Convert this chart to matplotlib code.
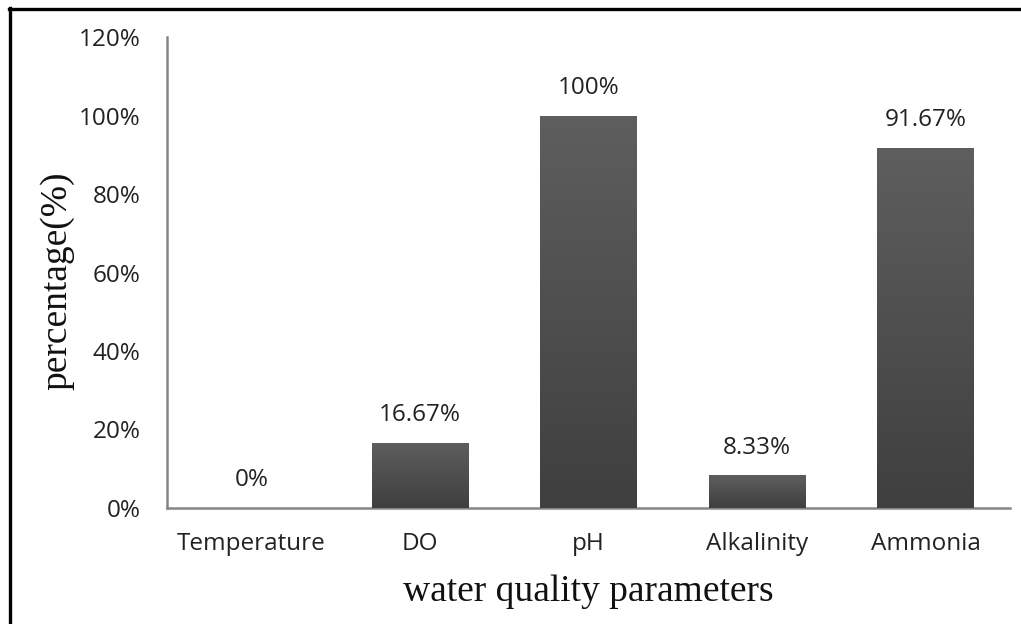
import numpy as np
import matplotlib
matplotlib.use('Agg')
import matplotlib.pyplot as plt
from matplotlib.ticker import FuncFormatter

categories = ['Temperature', 'DO', 'pH', 'Alkalinity', 'Ammonia']
values = [0, 16.67, 100, 8.33, 91.67]
labels = ['0%', '16.67%', '100%', '8.33%', '91.67%']
yticks = [0, 20, 40, 60, 80, 100, 120]

fig = plt.figure(figsize=(10.21, 6.24), dpi=100)
ax = fig.add_axes([0.1636, 0.1859, 0.8254, 0.7548])

x = np.arange(len(categories))
bars = ax.bar(x, values, width=0.57, color='#4a4a4a', zorder=2)

# vertical gradient on each bar, lighter at top
grad = np.linspace(0, 1, 100).reshape(-1, 1)
cmap = matplotlib.colors.LinearSegmentedColormap.from_list('g', ['#3f3f3f', '#5e5e5e'])
for b in bars:
    if b.get_height() <= 0:
        continue
    im = ax.imshow(grad, cmap=cmap, aspect='auto', origin='lower',
                   extent=[b.get_x(), b.get_x() + b.get_width(), 0, b.get_height()], zorder=3)
    im.set_clip_path(b)

for xi, v, lab in zip(x, values, labels):
    ax.annotate(lab, (xi, v), xytext=(0, 20), textcoords='offset points',
                ha='center', va='center', fontsize=17.5, family='Open Sans', color='#222222')

ax.set_xlim(-0.5, len(categories) - 0.5)
ax.set_ylim(0, 120)
ax.set_yticks(yticks)
ax.yaxis.set_major_formatter(FuncFormatter(lambda v, p: '%d%%' % v))
ax.set_xticks(x)
ax.set_xticklabels(categories)
ax.tick_params(length=0, labelsize=17.5, colors='#222222')
ax.tick_params(axis='y', pad=19)
ax.tick_params(axis='x', pad=17)
for t in ax.get_xticklabels() + ax.get_yticklabels():
    t.set_family('Open Sans')

for s in ['top', 'right']:
    ax.spines[s].set_visible(False)
for s in ['left', 'bottom']:
    ax.spines[s].set_color('#868686')
    ax.spines[s].set_linewidth(1.8)

fig.text(0.576, 0.051, 'water quality parameters', ha='center', va='center',
         fontsize=27, family='Liberation Serif', color='#111111')
fig.text(0.056, 0.55, 'percentage(%)', ha='center', va='center', rotation=90,
         fontsize=27, family='Liberation Serif', color='#111111')

# outer frame: left and top only
fig.add_artist(plt.Line2D([0.0098, 0.0098], [0, 0.987], color='black', lw=2.4,
                          transform=fig.transFigure))
fig.add_artist(plt.Line2D([0.0086, 1], [0.986, 0.986], color='black', lw=2.4,
                          transform=fig.transFigure))

fig.savefig('out.png', dpi=100)
